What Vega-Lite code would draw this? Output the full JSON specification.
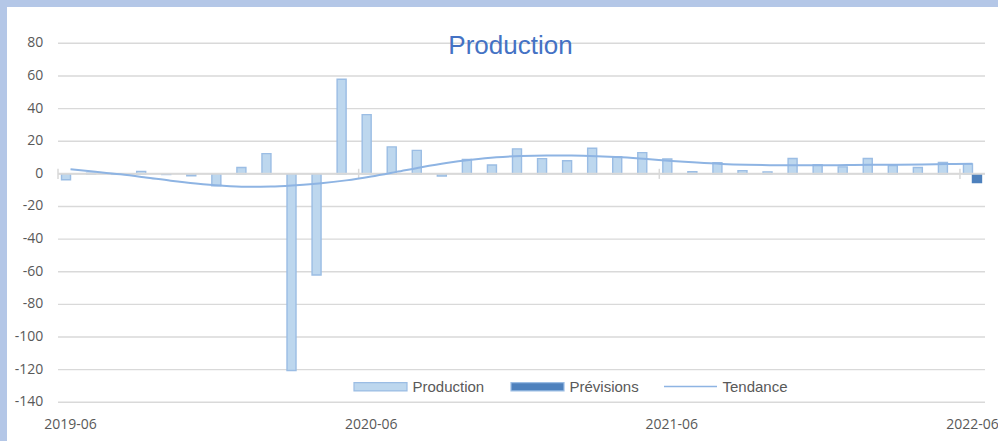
{
  "$schema": "https://vega.github.io/schema/vega-lite/v6.json",
  "width": 991,
  "height": 434,
  "autosize": {"type": "none"},
  "padding": {"left": 7, "top": 7, "right": 0, "bottom": 0},
  "background": "#b4c7e7",
  "config": {
    "view": {"fill": "white", "stroke": null},
    "font": "Liberation Sans"
  },
  "title": {
    "text": "Production",
    "font": "Liberation Sans",
    "fontSize": 26,
    "fontWeight": "normal",
    "color": "#4472c4",
    "anchor": "middle",
    "frame": "group",
    "baseline": "alphabetic",
    "offset": -73,
    "dx": 8
  },
  "datasets": {
    "serie": [
      {"month": "2019-06", "serie": "Production", "value": -3.6},
      {"month": "2019-07", "serie": "Production", "value": 0.4},
      {"month": "2019-08", "serie": "Production", "value": -0.3},
      {"month": "2019-09", "serie": "Production", "value": 1.5},
      {"month": "2019-10", "serie": "Production", "value": -0.4},
      {"month": "2019-11", "serie": "Production", "value": -1.2},
      {"month": "2019-12", "serie": "Production", "value": -7.4},
      {"month": "2020-01", "serie": "Production", "value": 3.9},
      {"month": "2020-02", "serie": "Production", "value": 12.4},
      {"month": "2020-03", "serie": "Production", "value": -120.5},
      {"month": "2020-04", "serie": "Production", "value": -62},
      {"month": "2020-05", "serie": "Production", "value": 58},
      {"month": "2020-06", "serie": "Production", "value": 36.3},
      {"month": "2020-07", "serie": "Production", "value": 16.5},
      {"month": "2020-08", "serie": "Production", "value": 14.4},
      {"month": "2020-09", "serie": "Production", "value": -1.3},
      {"month": "2020-10", "serie": "Production", "value": 8.8},
      {"month": "2020-11", "serie": "Production", "value": 5.4},
      {"month": "2020-12", "serie": "Production", "value": 15.3},
      {"month": "2021-01", "serie": "Production", "value": 9.3},
      {"month": "2021-02", "serie": "Production", "value": 8.0},
      {"month": "2021-03", "serie": "Production", "value": 15.7},
      {"month": "2021-04", "serie": "Production", "value": 10.5},
      {"month": "2021-05", "serie": "Production", "value": 13.0},
      {"month": "2021-06", "serie": "Production", "value": 9.1},
      {"month": "2021-07", "serie": "Production", "value": 1.3},
      {"month": "2021-08", "serie": "Production", "value": 6.9},
      {"month": "2021-09", "serie": "Production", "value": 2.0},
      {"month": "2021-10", "serie": "Production", "value": 1.2},
      {"month": "2021-11", "serie": "Production", "value": 9.4},
      {"month": "2021-12", "serie": "Production", "value": 5.6},
      {"month": "2022-01", "serie": "Production", "value": 4.3},
      {"month": "2022-02", "serie": "Production", "value": 9.4},
      {"month": "2022-03", "serie": "Production", "value": 5.1},
      {"month": "2022-04", "serie": "Production", "value": 3.9},
      {"month": "2022-05", "serie": "Production", "value": 7.0},
      {"month": "2022-06", "serie": "Production", "value": 6.1},
      {"month": "2022-06", "serie": "Prévisions", "value": -5.3}
    ],
    "tendance": [
      {"month": "2019-06", "trend": 2.8},
      {"month": "2019-07", "trend": 1.3},
      {"month": "2019-08", "trend": -0.3},
      {"month": "2019-09", "trend": -2.2},
      {"month": "2019-10", "trend": -4.2},
      {"month": "2019-11", "trend": -5.9},
      {"month": "2019-12", "trend": -7.2},
      {"month": "2020-01", "trend": -7.9},
      {"month": "2020-02", "trend": -7.8},
      {"month": "2020-03", "trend": -7.0},
      {"month": "2020-04", "trend": -5.8},
      {"month": "2020-05", "trend": -4.0},
      {"month": "2020-06", "trend": -1.6},
      {"month": "2020-07", "trend": 1.2},
      {"month": "2020-08", "trend": 4.1},
      {"month": "2020-09", "trend": 6.7},
      {"month": "2020-10", "trend": 8.7},
      {"month": "2020-11", "trend": 10.2},
      {"month": "2020-12", "trend": 11.0},
      {"month": "2021-01", "trend": 11.3},
      {"month": "2021-02", "trend": 11.2},
      {"month": "2021-03", "trend": 10.8},
      {"month": "2021-04", "trend": 10.1},
      {"month": "2021-05", "trend": 9.1},
      {"month": "2021-06", "trend": 7.9},
      {"month": "2021-07", "trend": 6.9},
      {"month": "2021-08", "trend": 6.1},
      {"month": "2021-09", "trend": 5.6},
      {"month": "2021-10", "trend": 5.3},
      {"month": "2021-11", "trend": 5.2},
      {"month": "2021-12", "trend": 5.2},
      {"month": "2022-01", "trend": 5.4},
      {"month": "2022-02", "trend": 5.5},
      {"month": "2022-03", "trend": 5.6},
      {"month": "2022-04", "trend": 5.7},
      {"month": "2022-05", "trend": 6.0},
      {"month": "2022-06", "trend": 6.2}
    ],
    "grille": [
      {"g": -140, "label": "-140"}, {"g": -120, "label": "-120"}, {"g": -100, "label": "-100"},
      {"g": -80, "label": "-80"}, {"g": -60, "label": "-60"}, {"g": -40, "label": "-40"},
      {"g": -20, "label": "-20"}, {"g": 0, "label": "0"}, {"g": 20, "label": "20"},
      {"g": 40, "label": "40"}, {"g": 60, "label": "60"}, {"g": 80, "label": "80"}
    ]
  },
  "layer": [
    {
      "data": {"name": "grille"},
      "mark": {"type": "rule", "color": "#d9d9d9", "strokeWidth": 1.4},
      "encoding": {
        "x": {"datum": "2019-06", "type": "ordinal", "bandPosition": 0, "title": null},
        "x2": {"datum": "2022-06", "bandPosition": 1},
        "y": {"field": "g", "type": "quantitative", "title": null}
      }
    },
    {
      "data": {"name": "serie"},
      "mark": {"type": "bar", "strokeWidth": 1.4},
      "encoding": {
        "x": {
          "field": "month",
          "type": "ordinal",
          "title": null,
          "scale": {"range": [51, 978], "paddingInner": 0, "paddingOuter": 0},
          "axis": {
            "values": ["2019-06", "2020-06", "2021-06", "2022-06"],
            "title": null,
            "labelAngle": 0,
            "labelAlign": "center",
            "labelBaseline": "middle",
            "domain": false,
            "ticks": false,
            "tickSize": 0,
            "grid": false,
            "labelFont": "Open Sans",
            "labelFontSize": 14,
            "labelColor": "#595959",
            "labelPadding": 0,
            "labelOverlap": false,
            "offset": -17
          }
        },
        "xOffset": {
          "field": "serie",
          "type": "nominal",
          "scale": {"domain": ["Production", "Prévisions"], "paddingInner": 0, "paddingOuter": 0.39}
        },
        "y": {
          "field": "value",
          "type": "quantitative",
          "title": null,
          "scale": {"domain": [-163.72, 102.25], "nice": false, "zero": false},
          "axis": {
            "title": null,
            "labels": false,
            "grid": false,
            "domain": false,
            "ticks": false
          }
        },
        "color": {
          "field": "serie",
          "type": "nominal",
          "scale": {
            "domain": ["Production", "Prévisions"],
            "range": ["#bdd7ee", "#4e81bd"]
          },
          "legend": {
            "orient": "none",
            "legendX": 346,
            "legendY": 352,
            "direction": "horizontal",
            "title": null,
            "padding": 0,
            "symbolType": "M-1,-0.157H1V0.157H-1Z",
            "symbolSize": 2809,
            "symbolStrokeColor": "#9bbde4",
            "symbolStrokeWidth": 1.2,
            "labelFont": "Liberation Sans",
            "labelFontSize": 15,
            "labelColor": "#595959",
            "labelOffset": 4.5,
            "columnPadding": 23
          }
        },
        "stroke": {
          "condition": {"test": "datum.serie === 'Production'", "value": "#9bbde4"},
          "value": "#4e81bd"
        }
      }
    },
    {
      "data": {"name": "grille"},
      "transform": [{"filter": "datum.g === 0"}],
      "mark": {"type": "rule", "color": "#d9d9d9", "strokeWidth": 2},
      "encoding": {
        "x": {"datum": "2019-06", "type": "ordinal", "bandPosition": 0, "title": null},
        "x2": {"datum": "2022-06", "bandPosition": 1},
        "y": {"field": "g", "type": "quantitative", "title": null}
      }
    },
    {
      "data": {"name": "serie"},
      "transform": [{"filter": "datum.serie === 'Production' && indexof(datum.month, '-06') > 0"}],
      "mark": {"type": "rule", "color": "#d9d9d9", "strokeWidth": 1.5},
      "encoding": {
        "x": {"field": "month", "type": "ordinal", "bandPosition": 0, "title": null},
        "y": {"datum": 3.1, "type": "quantitative", "title": null},
        "y2": {"datum": -3.1}
      }
    },
    {
      "data": {"name": "grille"},
      "mark": {
        "type": "text",
        "align": "right",
        "baseline": "middle",
        "dx": -14.7,
        "font": "Open Sans",
        "fontSize": 14,
        "color": "#595959"
      },
      "encoding": {
        "x": {"datum": "2019-06", "type": "ordinal", "bandPosition": 0, "title": null},
        "y": {"field": "g", "type": "quantitative", "title": null},
        "text": {"field": "label", "type": "nominal"}
      }
    },
    {
      "data": {"name": "tendance"},
      "mark": {"type": "line", "strokeWidth": 2, "interpolate": "monotone"},
      "encoding": {
        "x": {"field": "month", "type": "ordinal", "title": null},
        "y": {"field": "trend", "type": "quantitative", "title": null},
        "stroke": {
          "datum": "Tendance",
          "type": "nominal",
          "scale": {"domain": ["Tendance"], "range": ["#8eb4e3"]},
          "legend": {
            "orient": "none",
            "legendX": 656,
            "legendY": 352,
            "direction": "horizontal",
            "title": null,
            "padding": 0,
            "symbolType": "stroke",
            "symbolSize": 2809,
            "symbolStrokeWidth": 1.5,
            "labelFont": "Liberation Sans",
            "labelFontSize": 15,
            "labelColor": "#595959",
            "labelOffset": 4.5
          }
        }
      }
    }
  ]
}
